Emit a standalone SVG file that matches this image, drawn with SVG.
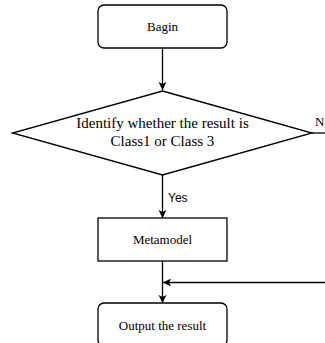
<svg xmlns="http://www.w3.org/2000/svg" width="325" height="343" viewBox="0 0 325 343">
<style>
.box{fill:#fff;stroke:#000;stroke-width:1.3}
.ln{fill:none;stroke:#000;stroke-width:1.3}
.t{font-family:"Liberation Serif",serif;font-size:13px;fill:#000;text-anchor:middle}
.td{font-family:"Liberation Serif",serif;font-size:15px;fill:#000;text-anchor:middle}
.ts{font-family:"Liberation Sans",sans-serif;font-size:12px;fill:#000}
</style>
<defs>
<marker id="arr" markerWidth="10" markerHeight="10" refX="8" refY="4" orient="auto" markerUnits="userSpaceOnUse">
<path d="M0,0 L8,4 L0,8 L2,4 Z" fill="#000"/>
</marker>
</defs>
<rect width="325" height="343" fill="#fff"/>
<g id="connectors">
<line class="ln" x1="162.5" y1="48" x2="162.5" y2="90" marker-end="url(#arr)"/>
<line class="ln" x1="162.5" y1="175" x2="162.5" y2="218" marker-end="url(#arr)"/>
<line class="ln" x1="162.5" y1="261" x2="162.5" y2="303" marker-end="url(#arr)"/>
<line class="ln" x1="312" y1="133" x2="325" y2="133"/>
<line class="ln" x1="325" y1="282.5" x2="163" y2="282.5" marker-end="url(#arr)"/>
<text class="ts" x="168" y="202">Yes</text>
<text class="t" x="315" y="126" style="text-anchor:start">No</text>
</g>
<g id="begin">
<rect class="box" x="98" y="5" width="129" height="43" rx="6"/>
<text class="t" x="162.5" y="31">Bagin</text>
</g>
<g id="decision">
<polygon class="box" points="162.5,91 312,133 162.5,175 12.5,133"/>
<text class="td" x="162.5" y="128">Identify whether the result is</text>
<text class="td" x="162.5" y="146">Class1 or Class 3</text>
</g>
<g id="metamodel">
<rect class="box" x="98" y="218" width="129" height="43"/>
<text class="t" x="162.5" y="244">Metamodel</text>
</g>
<g id="output">
<rect class="box" x="98" y="303" width="129" height="43" rx="6"/>
<text class="t" x="162.5" y="330">Output the result</text>
</g>
</svg>
